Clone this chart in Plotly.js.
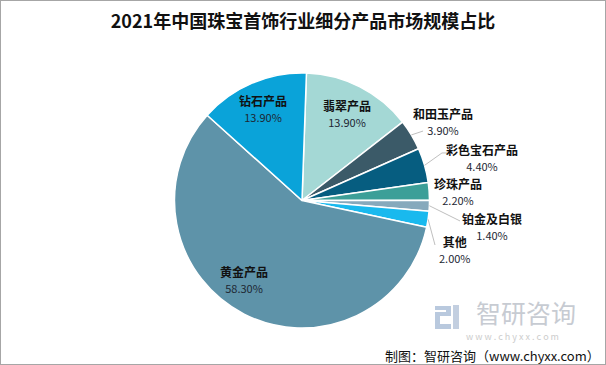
<!DOCTYPE html>
<html><head><meta charset="utf-8">
<script src="https://cdn.plot.ly/plotly-3.0.1.min.js"></script>
<style>html,body{margin:0;padding:0;background:#fff}#chart{width:606px;height:365px}</style>
</head><body><div id="chart"></div>
<script>
// ---- data ----
const titleText = '2021年中国珠宝首饰行业细分产品市场规模占比';
const categories = ['翡翠产品','和田玉产品','彩色宝石产品','珍珠产品','铂金及白银','其他','黄金产品','钻石产品'];
const values = [13.9, 3.9, 4.4, 2.2, 1.4, 2.0, 58.3, 13.9];
const sourceText = '制图：智研咨询（www.chyxx.com）';

// ---- styles ----
const colors = ['#a4d8d5','#3b5a68','#065d80','#3c9f98','#86a9bc','#19b9ee','#5e93a9','#0aa3d9'];
const W = 606, H = 365;
const cx = 302, cy = 200.5, R = 127.5, rotation = 2;
// label placement: inside -> radial fraction + px shift; outside -> px offset from slice edge + leader points
const labelStyle = [
  {mode:'in', r:0.77, dx:0, dy:0},
  {mode:'out', dx:31.7, dy:-13.9, leader:[[11.7,-3.9]]},
  {mode:'out', dx:57.4, dy:-7.4, leader:[[17.4,-12.4],[22.4,-12.4]]},
  {mode:'out', dx:28.8, dy:-0.3, leader:[]},
  {mode:'out', dx:62.6, dy:21.2, leader:[[30.6,15.2]]},
  {mode:'out', dx:26.9, dy:29.7, leader:[[6.9,25.7]]},
  {mode:'in', r:0.77, dx:-13.5, dy:-8},
  {mode:'in', r:0.78, dx:0, dy:0}
];
const font = '"Noto Sans CJK SC", "Microsoft YaHei", sans-serif';
const px = x => x / W, py = y => 1 - y / H;

const total = values.reduce((a,b)=>a+b,0);
const annotations = [];
const shapes = [];
let acc = 0;
values.forEach((v,i)=>{
  const mid = (rotation + (acc + v/2) / total * 360) * Math.PI/180;
  acc += v;
  const st = labelStyle[i];
  let lx, ly;
  if (st.mode === 'in') {
    lx = cx + R*st.r*Math.sin(mid) + st.dx;
    ly = cy - R*st.r*Math.cos(mid) + st.dy;
  } else {
    const ex = cx + R*Math.sin(mid), ey = cy - R*Math.cos(mid);
    lx = ex + st.dx; ly = ey + st.dy;
    if (st.leader.length) {
      let p = `M ${px(ex)} ${py(ey)}`;
      st.leader.forEach(([a,b])=>{ p += ` L ${px(ex+a)} ${py(ey+b)}`; });
      shapes.push({type:'path', xref:'paper', yref:'paper', path:p, line:{color:'#bfbfbf', width:1}});
    }
  }
  annotations.push({xref:'paper', yref:'paper', x:px(lx), y:py(ly), xanchor:'center', yanchor:'middle',
    text:'<b>'+categories[i]+'</b><br><span style="font-size:11px;color:#1d2733">'+v.toFixed(2)+'%</span>',
    showarrow:false, borderpad:0, font:{family:font, size:12, color:'#111'}});
});

// watermark + source
annotations.push({xref:'paper', yref:'paper', x:px(526), y:py(312), xanchor:'center', yanchor:'middle',
  text:'智研咨询', showarrow:false, borderpad:0, font:{family:font, size:25, color:'#c7cbd2'}});
annotations.push({xref:'paper', yref:'paper', x:px(512), y:py(336.5), xanchor:'center', yanchor:'middle',
  text:'w w w . c h y x x . c o m', showarrow:false, borderpad:0, font:{family:font, size:9, color:'#cdcdcd'}});
annotations.push({xref:'paper', yref:'paper', x:px(601), y:py(355), xanchor:'right', yanchor:'middle',
  text:sourceText, showarrow:false, borderpad:0, font:{family:font, size:13, color:'#111'}});

// logo approximation
shapes.push({type:'path', xref:'paper', yref:'paper', fillcolor:'#b9c9de', line:{width:0},
  path:`M ${px(435)} ${py(306)} L ${px(451)} ${py(306)} L ${px(451)} ${py(316)} L ${px(440)} ${py(316)} L ${px(440)} ${py(324)} L ${px(451)} ${py(324)} L ${px(451)} ${py(329)} L ${px(435)} ${py(329)} L ${px(435)} ${py(312)} L ${px(446)} ${py(312)} L ${px(446)} ${py(310)} L ${px(435)} ${py(310)} Z`});
shapes.push({type:'rect', xref:'paper', yref:'paper', fillcolor:'#c3cfe0', line:{width:0},
  x0:px(453), x1:px(459), y0:py(329), y1:py(305)});
// border
shapes.push({type:'rect', xref:'paper', yref:'paper', x0:0, x1:1, y0:0, y1:1, line:{color:'#a6a6a6', width:2}});

const trace = {
  type:'pie', labels:categories, values:values, sort:false, direction:'clockwise', rotation:rotation,
  marker:{colors:colors, line:{color:'#ffffff', width:1.5}},
  textinfo:'none', hoverinfo:'label+percent',
  domain:{x:[(cx-R)/W, (cx+R)/W], y:[1-(cy+R)/H, 1-(cy-R)/H]}
};
const layout = {
  width:W, height:H, margin:{l:0,r:0,t:0,b:0}, showlegend:false,
  paper_bgcolor:'#ffffff',
  title:{text:'<b>'+titleText+'</b>', x:0.5, xanchor:'center', y:1-22/H, yanchor:'middle',
    font:{family:font, size:18, color:'#111'}},
  annotations:annotations, shapes:shapes
};
Plotly.newPlot('chart', [trace], layout, {staticPlot:true});
</script></body></html>
